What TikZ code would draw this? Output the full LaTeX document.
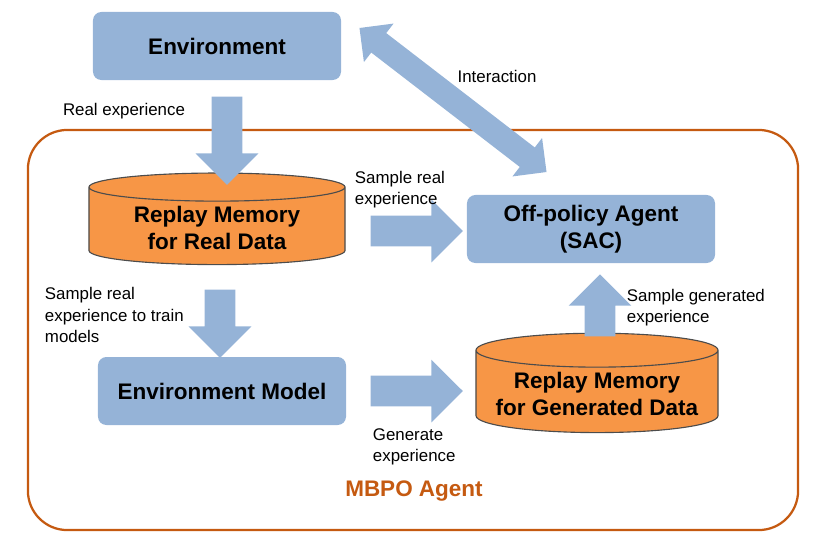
\documentclass[tikz,border=0pt]{standalone}
\usepackage{fontspec}
\setmainfont{Liberation Sans}
\usetikzlibrary{positioning,shapes.geometric,shapes.arrows}
\definecolor{boxblue}{HTML}{95B3D7}
\definecolor{memorange}{HTML}{F79646}
\definecolor{agentline}{HTML}{C55A11}
\tikzset{
    box/.style={rectangle, rounded corners=6pt, fill=boxblue, draw=none,
        minimum width=6.2cm, minimum height=1.7cm, align=center,
        font=\fontsize{16}{19}\selectfont\bfseries},
    memory/.style={cylinder, shape border rotate=90, aspect=0.16, draw=black!70,
        fill=memorange, thick, align=center,
        font=\fontsize{16}{19}\selectfont\bfseries},
    blockarrow/.style={single arrow, fill=boxblue, draw=none,
        single arrow head extend=0.4cm,
        single arrow head indent=0pt, inner sep=0.38cm},
    label/.style={font=\fontsize{12}{15}\selectfont, align=left}
}
\begin{document}
\begin{tikzpicture}[x=0.025cm, y=-0.025cm]
    \useasboundingbox (0,0) rectangle (829,542);

    % outer agent frame
    \node (mbpo) [draw=agentline, line width=1.6pt, rounded corners=28pt,
        minimum width=19.25cm, minimum height=10cm] at (413,330) {};
    \node (mbpolabel) [font=\fontsize{16}{19}\selectfont\bfseries, text=agentline]
        at (414,491) {MBPO Agent};

    % boxes
    \node (env) [box] at (217,46) {Environment};
    \node (sac) [box] at (591,229) {Off-policy Agent\\(SAC)};
    \node (model) [box] at (222,391) {Environment Model};

    % replay memories
    \node (realmem) [memory, minimum width=6.4cm, minimum height=2.2cm]
        at (217,228) {Replay Memory\\for Real Data};
    \node (genmem) [memory, minimum width=6.05cm, minimum height=2.1cm]
        at (597,394) {Replay Memory\\for Generated Data};

    % block arrows
    \node (a1) [blockarrow, rotate=-90, minimum height=2.2cm] at (227,133) {};
    \node (a2) [blockarrow, rotate=-90, minimum height=1.7cm] at (220,316) {};
    \node (a3) [blockarrow, minimum height=2.3cm] at (409,231) {};
    \node (a4) [blockarrow, minimum height=2.3cm] at (409,391) {};
    \node (a5) [blockarrow, rotate=90, minimum height=1.55cm] at (600,313) {};
    \node (a6) [double arrow, fill=boxblue, draw=none, rotate=-37.6,
        double arrow head extend=0.3cm,
        double arrow head indent=0pt, inner sep=0.3cm, minimum height=5.9cm]
        at (453,100) {};

    % labels
    \node (l1) [label] at (124,111) {Real experience};
    \node (l2) [label] at (497,76) {Interaction};
    \node (l3) [label, anchor=west] at (350,190) {Sample real\\experience};
    \node (l4) [label, anchor=west] at (40,315) {Sample real\\experience to train\\models};
    \node (l5) [label, anchor=west] at (622,308) {Sample generated\\experience};
    \node (l6) [label, anchor=west] at (368,447) {Generate\\experience};
\end{tikzpicture}
\end{document}
